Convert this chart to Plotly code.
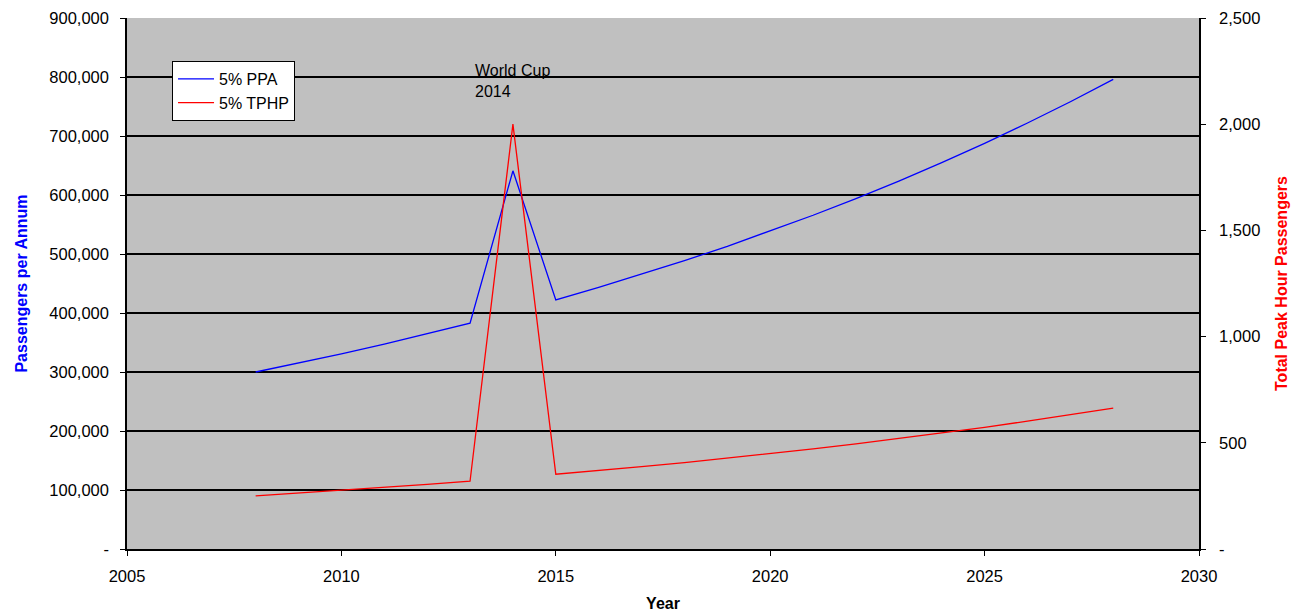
import plotly.graph_objects as go

# Yearly forecast
years = list(range(2008, 2029))
ppa = [300000, 315000, 330750, 347288, 364652, 382884, 641000, 422130, 443237,
       465398, 488668, 513102, 538757, 565695, 593979, 623678, 654862, 687605,
       721986, 758085, 795989]
tphp = [250, 263, 276, 289, 304, 319, 2000, 352, 369, 388, 407, 428, 449, 471,
        495, 520, 546, 573, 602, 632, 663]

left_ticks = [0, 100000, 200000, 300000, 400000, 500000, 600000, 700000, 800000, 900000]
left_labels = ["-", "100,000", "200,000", "300,000", "400,000", "500,000",
               "600,000", "700,000", "800,000", "900,000"]
right_ticks = [0, 500, 1000, 1500, 2000, 2500]
right_labels = ["-", "500", "1,000", "1,500", "2,000", "2,500"]
x_ticks = [2005, 2010, 2015, 2020, 2025, 2030]

FONT = "Liberation Sans, Arial, sans-serif"
SIZE = 16.5

fig = go.Figure()
fig.add_trace(go.Scatter(x=years, y=ppa, name="5% PPA", mode="lines",
                         line=dict(color="#0000FF", width=1.3)))
fig.add_trace(go.Scatter(x=years, y=tphp, name="5% TPHP", mode="lines",
                         line=dict(color="#FF0000", width=1.3), yaxis="y2"))

fig.add_annotation(x=2013.07, y=794000, xref="x", yref="y", text="World Cup<br>2014",
                   showarrow=False, xanchor="left", yanchor="middle", align="left",
                   font=dict(family=FONT, size=16, color="#000000"))

fig.update_layout(
    width=1291, height=612,
    margin=dict(l=127, r=92, t=18, b=63, autoexpand=False),
    paper_bgcolor="#FFFFFF", plot_bgcolor="#C0C0C0",
    font=dict(family=FONT, size=SIZE, color="#000000"),
    showlegend=True,
    legend=dict(x=0.042, y=0.919, xanchor="left", yanchor="top",
                bgcolor="#FFFFFF", bordercolor="#000000", borderwidth=1,
                font=dict(family=FONT, size=16, color="#000000"),
                tracegroupgap=0, itemwidth=36),
    xaxis=dict(range=[2005, 2030], tickvals=x_ticks, showgrid=False, zeroline=False,
               showline=True, linecolor="#000000", linewidth=1.5, automargin=False,
               ticks="outside", ticklen=5, tickcolor="#000000", ticklabelstandoff=6,
               tickfont=dict(family=FONT, size=SIZE, color="#000000"),
               title=dict(text="<b>Year</b>", font=dict(family=FONT, size=16, color="#000000"),
                          standoff=16)),
    yaxis=dict(range=[0, 900000], tickvals=left_ticks, ticktext=left_labels,
               showgrid=True, gridcolor="#000000", gridwidth=1.5, zeroline=False,
               showline=True, linecolor="#000000", linewidth=1.5, automargin=False,
               ticks="outside", ticklen=5, tickcolor="#000000", ticklabelstandoff=8,
               tickfont=dict(family=FONT, size=SIZE, color="#000000"),
               title=dict(text="<b>Passengers per Annum</b>",
                          font=dict(family=FONT, size=16, color="#0000FF"), standoff=18)),
    yaxis2=dict(range=[0, 2500], tickvals=right_ticks, ticktext=right_labels,
                overlaying="y", side="right", showgrid=False, zeroline=False,
                showline=True, linecolor="#000000", linewidth=1.5, automargin=False,
                ticks="outside", ticklen=5, tickcolor="#000000", ticklabelstandoff=10,
                tickfont=dict(family=FONT, size=SIZE, color="#000000"),
                title=dict(text="<b>Total Peak Hour Passengers</b>",
                           font=dict(family=FONT, size=16, color="#FF0000"), standoff=16)),
)

fig.write_html("out.html")
